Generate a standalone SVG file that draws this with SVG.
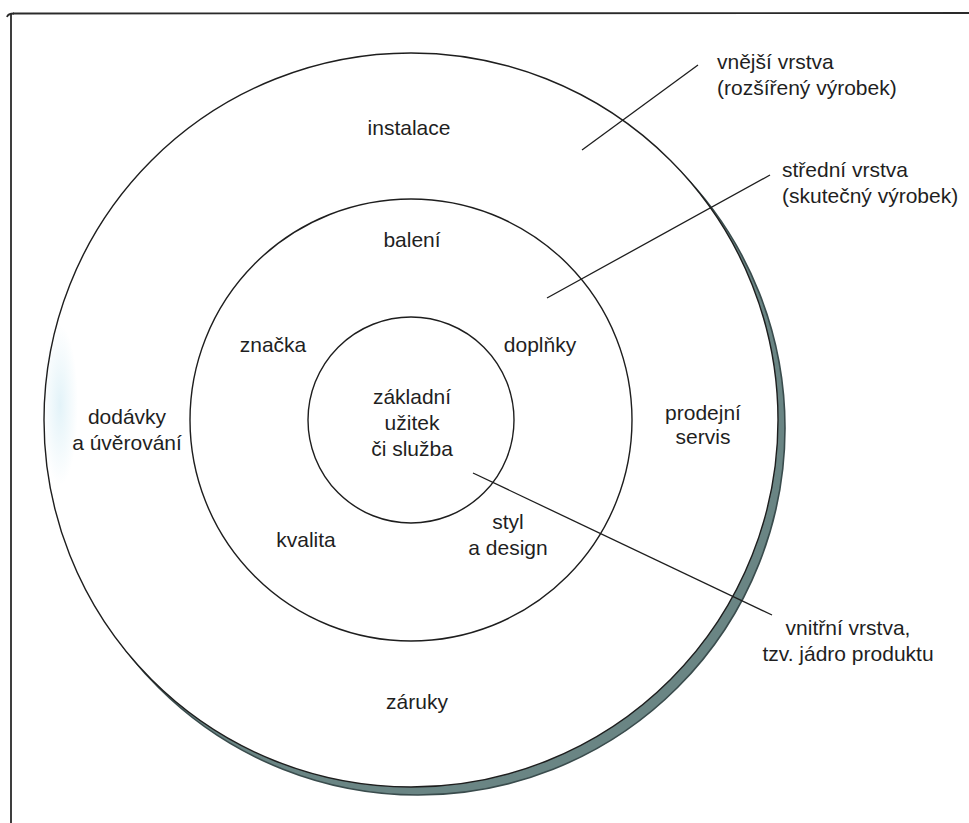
<svg xmlns="http://www.w3.org/2000/svg" width="969" height="823" viewBox="0 0 969 823">
  <defs>
    <style>
      .ring { fill: none; stroke: #1e1e1e; stroke-width: 1.4; }
      .lead { fill: none; stroke: #1e1e1e; stroke-width: 1.3; }
      .frame { fill: none; stroke: #2a2a2a; stroke-width: 1.8; }
      .lbl { font-family: "Liberation Sans", Arial, Helvetica, sans-serif; font-size: 21px; fill: #1f1f1f; }
      .mid { text-anchor: middle; }
    </style>
    <radialGradient id="tint" cx="0.5" cy="0.5" r="0.5">
      <stop offset="0" stop-color="#dcf0f7" stop-opacity="0.8"/>
      <stop offset="1" stop-color="#dcf0f7" stop-opacity="0"/>
    </radialGradient>
  </defs>

  <rect width="969" height="823" fill="#ffffff"/>

  <!-- frame: top and left edges -->
  <line class="frame" x1="13" y1="13.5" x2="969" y2="13"/>
  <path class="frame" d="M 7 17 Q 8 13.5 14 13.5"/>
  <line class="frame" x1="11" y1="14" x2="11" y2="823"/>

  <!-- outer layer: drop shadow, then the ring -->
  <g id="outer-layer">
    <circle cx="418" cy="428" r="367" fill="#6a8584" stroke="#3a4c4d" stroke-width="1.6"/>
    <circle cx="411" cy="420" r="367" fill="#ffffff"/>
    <ellipse cx="60" cy="405" rx="18" ry="80" fill="url(#tint)"/>
    <circle class="ring" cx="411" cy="420" r="367"/>
    <text class="lbl mid" x="409" y="135">instalace</text>
    <text class="lbl mid" x="127" y="424">dodávky</text>
    <text class="lbl mid" x="127" y="450">a úvěrování</text>
    <text class="lbl mid" x="703" y="420">prodejní</text>
    <text class="lbl mid" x="703" y="444">servis</text>
    <text class="lbl mid" x="417" y="709">záruky</text>
  </g>

  <g id="middle-layer">
    <circle class="ring" cx="411" cy="420" r="221"/>
    <text class="lbl mid" x="412" y="247">balení</text>
    <text class="lbl mid" x="273" y="352">značka</text>
    <text class="lbl mid" x="540" y="352">doplňky</text>
    <text class="lbl mid" x="306" y="547">kvalita</text>
    <text class="lbl mid" x="508" y="529">styl</text>
    <text class="lbl mid" x="508" y="555">a design</text>
  </g>

  <g id="inner-layer">
    <circle class="ring" cx="411" cy="420" r="103"/>
    <text class="lbl mid" x="412" y="404">základní</text>
    <text class="lbl mid" x="412" y="430">užitek</text>
    <text class="lbl mid" x="412" y="456">či služba</text>
  </g>

  <!-- leader lines to the layer captions -->
  <g id="connectors">
    <line class="lead" x1="582" y1="150" x2="698" y2="65"/>
    <line class="lead" x1="547" y1="298" x2="770" y2="175"/>
    <line class="lead" x1="473" y1="473" x2="772" y2="615"/>
  </g>

  <g id="caption-outer">
    <text class="lbl" x="717" y="69">vnější vrstva</text>
    <text class="lbl" x="717" y="95">(rozšířený výrobek)</text>
  </g>
  <g id="caption-middle">
    <text class="lbl" x="782" y="177">střední vrstva</text>
    <text class="lbl" x="782" y="203">(skutečný výrobek)</text>
  </g>
  <g id="caption-inner">
    <text class="lbl mid" x="848" y="635">vnitřní vrstva,</text>
    <text class="lbl mid" x="848" y="661">tzv. jádro produktu</text>
  </g>
</svg>
